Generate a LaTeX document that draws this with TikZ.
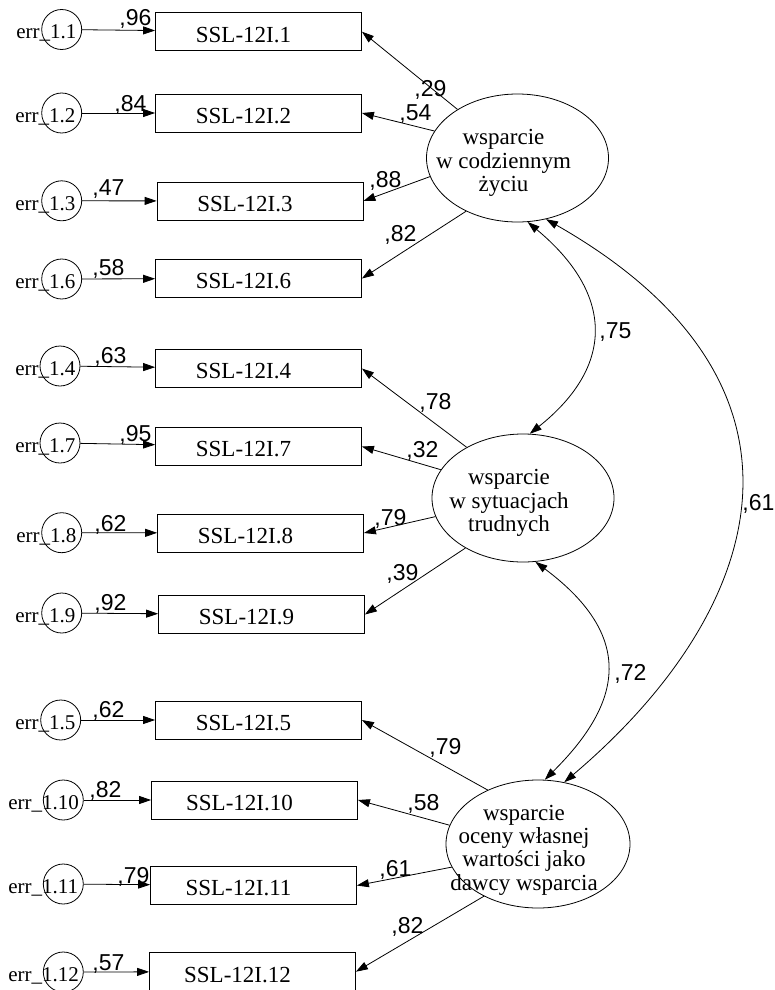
\documentclass[tikz,border=0pt]{standalone}
\usepackage{fontspec}
\setmainfont{Liberation Serif}
\newfontfamily\numfont{Liberation Sans}
\usetikzlibrary{arrows.meta, shapes.geometric}

\begin{document}
\begin{tikzpicture}[
      x=1pt, y=-1pt,
      ind/.style={draw, minimum width=206pt, minimum height=38pt, inner sep=0pt},
      err/.style={draw, circle, minimum size=40pt, inner sep=0pt},
      lat/.style={draw, ellipse, minimum width=182pt, minimum height=128pt, inner sep=0pt},
      itxt/.style={font=\fontsize{23}{24}\selectfont, xshift=-15pt, yshift=-3pt},
      ltxt/.style={align=center, font=\fontsize{23}{23.3}\selectfont, xshift=-14pt, yshift=-5pt},
      etxt/.style={anchor=base west, inner sep=0pt, font=\fontsize{21}{22}\selectfont},
      num/.style={anchor=base west, inner sep=0pt, font=\numfont\fontsize{23}{24}\selectfont},
      >={Triangle[length=12pt, width=8pt]},
      line width=0.8pt]
    \useasboundingbox (0,0) rectangle (775,990);

    % latent factors
    \node[lat, label={[ltxt]center:wsparcie\\w codziennym\\życiu}] (zyc) at (517.5,158) {};
    \node[lat, label={[ltxt]center:wsparcie\\w sytuacjach\\trudnych}] (trud) at (523,498) {};
    \node[lat, minimum width=184pt,
          label={[ltxt, yshift=-1pt]center:wsparcie\\oceny własnej\\wartości jako\\dawcy wsparcia}] (ocen) at (538,844) {};

    % items
    \node[ind, label={[itxt]center:SSL-12I.1}] (i1) at (258.5,31.7) {};
    \node[ind, label={[itxt]center:SSL-12I.2}] (i2) at (258.5,113) {};
    \node[ind, label={[itxt]center:SSL-12I.3}] (i3) at (260,201) {};
    \node[ind, label={[itxt]center:SSL-12I.6}] (i6) at (258.5,278.5) {};
    \node[ind, label={[itxt]center:SSL-12I.4}] (i4) at (258.5,368.5) {};
    \node[ind, label={[itxt]center:SSL-12I.7}] (i7) at (258.5,446.5) {};
    \node[ind, label={[itxt]center:SSL-12I.8}] (i8) at (260.5,533) {};
    \node[ind, label={[itxt]center:SSL-12I.9}] (i9) at (261.5,614.5) {};
    \node[ind, label={[itxt]center:SSL-12I.5}] (i5) at (258.5,720) {};
    \node[ind, label={[itxt]center:SSL-12I.10}] (i10) at (254.5,800) {};
    \node[ind, label={[itxt]center:SSL-12I.11}] (i11) at (253.5,885.5) {};
    \node[ind, label={[itxt]center:SSL-12I.12}] (i12) at (252.5,971.7) {};

    % errors
    \node[err] (e1) at (61.7,29.5) {};
    \node[err] (e2) at (61.7,113) {};
    \node[err] (e3) at (61.7,200.8) {};
    \node[err] (e6) at (61.7,279) {};
    \node[err] (e4) at (60,366) {};
    \node[err] (e7) at (60,443) {};
    \node[err] (e8) at (61.7,532.7) {};
    \node[err] (e9) at (61.7,613) {};
    \node[err] (e5) at (60.7,720) {};
    \node[err] (e10) at (63.3,800) {};
    \node[err] (e11) at (63.3,884) {};
    \node[err] (e12) at (63.3,972) {};

    \node[etxt] (t1) at (16,39) {err\_1.1};
    \node[etxt] (t2) at (15,122) {err\_1.2};
    \node[etxt] (t3) at (15,210) {err\_1.3};
    \node[etxt] (t6) at (15,288) {err\_1.6};
    \node[etxt] (t4) at (15,375) {err\_1.4};
    \node[etxt] (t7) at (15,452) {err\_1.7};
    \node[etxt] (t8) at (16,542) {err\_1.8};
    \node[etxt] (t9) at (15,622) {err\_1.9};
    \node[etxt] (t5) at (15,729) {err\_1.5};
    \node[etxt] (t10) at (8,809) {err\_1.10};
    \node[etxt] (t11) at (8,893) {err\_1.11};
    \node[etxt] (t12) at (8,981) {err\_1.12};

    % error paths
    \draw[->] (e1) -- (i1);
    \draw[->] (e2) -- (i2);
    \draw[->] (e3) -- (i3);
    \draw[->] (e6) -- (i6);
    \draw[->] (e4) -- (i4);
    \draw[->] (e7) -- (i7);
    \draw[->] (e8) -- (i8);
    \draw[->] (e9) -- (i9);
    \draw[->] (e5) -- (i5);
    \draw[->] (e10) -- (i10);
    \draw[->] (e11) -- (i11);
    \draw[->] (e12) -- (i12);
    \node[num] (w1) at (119,26) {,96};
    \node[num] (w2) at (114,111.5) {,84};
    \node[num] (w3) at (92,195.5) {,47};
    \node[num] (w6) at (92,275) {,58};
    \node[num] (w4) at (94,363) {,63};
    \node[num] (w7) at (119,441.5) {,95};
    \node[num] (w8) at (94,531.5) {,62};
    \node[num] (w9) at (94,610) {,92};
    \node[num] (w5) at (92,717.5) {,62};
    \node[num] (w10) at (89,797.5) {,82};
    \node[num] (w11) at (117,883) {,79};
    \node[num] (w12) at (92,970) {,57};

    % loadings
    \draw[->] (zyc.141) -- (i1.east);
    \draw[->] (zyc.162) -- (i2.east);
    \draw[->] (zyc.192) -- (i3.east);
    \draw[->] (zyc.226) -- (i6.east);
    \draw[->] (trud.138) -- (i4.east);
    \draw[->] (trud.161) -- (i7.east);
    \draw[->] (trud.192) -- (i8.east);
    \draw[->] (trud.221) -- (i9.east);
    \draw[->] (ocen.133) -- (i5.east);
    \draw[->] (ocen.168) -- (i10.east);
    \draw[->] (ocen.195) -- (i11.east);
    \draw[->] (ocen.224) -- (i12.east);
    \node[num] (l1) at (414,96) {,29};
    \node[num] (l2) at (399,120.5) {,54};
    \node[num] (l3) at (369,187) {,88};
    \node[num] (l6) at (384,241.5) {,82};
    \node[num] (l4) at (419,409) {,78};
    \node[num] (l7) at (406,457) {,32};
    \node[num] (l8) at (374,525) {,79};
    \node[num] (l9) at (386,580.5) {,39};
    \node[num] (l5) at (429,754) {,79};
    \node[num] (l10) at (407,810.5) {,58};
    \node[num] (l11) at (379,876.5) {,61};
    \node[num] (l12) at (391,933) {,82};

    % covariances
    \draw[<->] (zyc.279) .. controls (613,293) and (616,365) .. (trud.84);
    \draw[<->] (zyc.295) .. controls (839,386) and (764,613) .. (ocen.67);
    \draw[<->] (trud.281) .. controls (640,640) and (618,707) .. (ocen.84);
    \node[num] (c1) at (599,338) {,75};
    \node[num] (c2) at (742,510) {,61};
    \node[num] (c3) at (614,680) {,72};
  \end{tikzpicture}
\end{document}
